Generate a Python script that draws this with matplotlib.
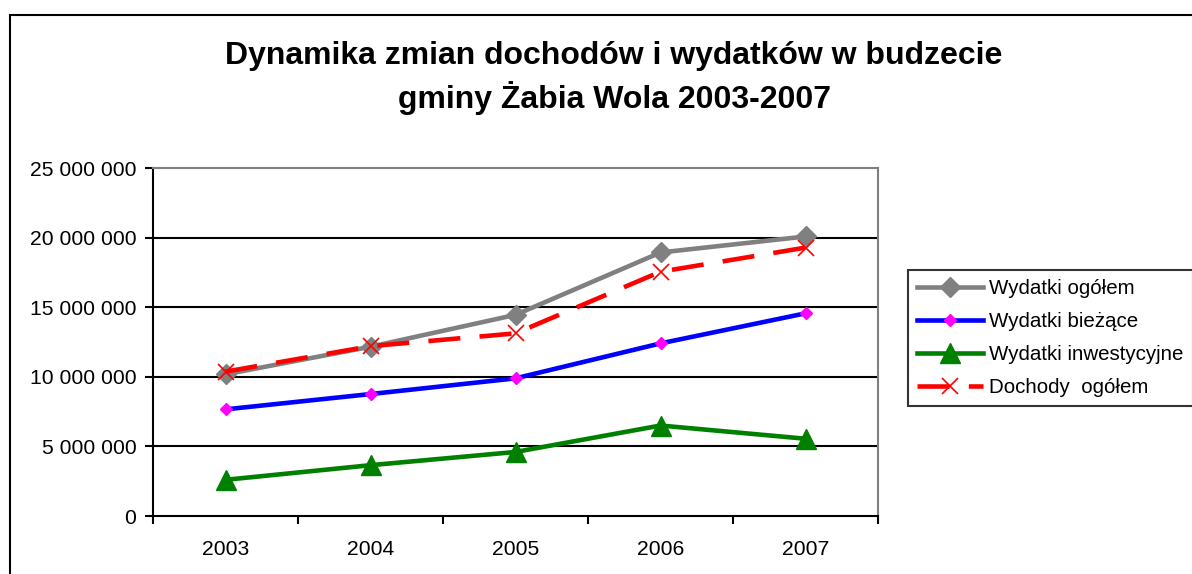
import matplotlib
matplotlib.use('Agg')
import matplotlib.pyplot as plt
from matplotlib.patches import Rectangle
from matplotlib.ticker import FuncFormatter

plt.rcParams['font.family'] = ['Liberation Sans', 'DejaVu Sans']

years = ['2003', '2004', '2005', '2006', '2007']
wydatki_ogolem = [10180000, 12160000, 14450000, 18930000, 20080000]
wydatki_biezace = [7660000, 8760000, 9890000, 12400000, 14560000]
wydatki_inwest = [2600000, 3650000, 4600000, 6500000, 5550000]
dochody_ogolem = [10370000, 12200000, 13120000, 17550000, 19280000]

fig = plt.figure(figsize=(11.92, 5.74), dpi=100)
ax = fig.add_axes([153 / 1192, 1 - 516 / 574, 725 / 1192, 348 / 574])

# outer chart frame
fig.patches.append(Rectangle((10 / 1192, -0.1), 1.2, 1 - 15 / 574 + 0.1,
                             transform=fig.transFigure, fill=False,
                             edgecolor='black', linewidth=1.5))

x = [i + 0.5 for i in range(len(years))]
ax.plot(x, wydatki_ogolem, color='#808080', lw=3.3, marker='D', ms=10.5,
        label='Wydatki ogółem', zorder=3)
ax.plot(x, wydatki_biezace, color='#0000ff', lw=3.3, marker='D', ms=6,
        mfc='#ff00ff', mec='#ff00ff', label='Wydatki bieżące', zorder=3)
ax.plot(x, wydatki_inwest, color='#008000', lw=3.3, marker='^', ms=14,
        label='Wydatki inwestycyjne', zorder=3)
ax.plot(x, dochody_ogolem, color='#ff0000', lw=3.3, marker='x', ms=12, mew=1.2,
        dashes=(7, 4.2), dash_capstyle='butt', label='Dochody  ogółem', zorder=4)

ax.set_xlim(0, 5)
ax.set_ylim(0, 25000000)
ax.set_yticks(range(0, 25000001, 5000000))
ax.yaxis.set_major_formatter(FuncFormatter(lambda v, p: f'{int(v):,}'.replace(',', ' ')))
ax.set_xticks(range(6))
ax.set_xticklabels([])
ax.set_xticks(x, minor=True)
ax.set_xticklabels(years, minor=True)
ax.tick_params(axis='x', which='minor', length=0, pad=17, labelsize=15.2)
ax.tick_params(axis='x', which='major', length=6, width=1.5, direction='out')
ax.tick_params(axis='y', length=6, width=1.5, direction='out', labelsize=15.2, pad=6)

for v in range(5000000, 25000000, 5000000):
    ax.axhline(v, color='black', lw=1.5, zorder=1)

ax.spines['left'].set_linewidth(1.5)
ax.spines['bottom'].set_linewidth(1.5)
ax.spines['top'].set_color('#808080')
ax.spines['right'].set_color('#808080')
ax.spines['top'].set_linewidth(1.5)
ax.spines['right'].set_linewidth(1.5)

fig.text(614 / 1192, 1 - 56 / 574, 'Dynamika zmian dochodów i wydatków w budzecie',
         ha='center', va='center', fontsize=23, fontweight='bold')
fig.text(615 / 1192, 1 - 98 / 574, 'gminy Żabia Wola 2003-2007',
         ha='center', va='center', fontsize=23, fontweight='bold')

leg = fig.legend(loc='upper left', bbox_to_anchor=(908 / 1192, 1 - 270 / 574),
                 fontsize=14.8, handlelength=3.2, handletextpad=0.3,
                 labelspacing=0.68, borderpad=0.45, borderaxespad=0,
                 fancybox=False, frameon=True, edgecolor='black')
leg.get_frame().set_linewidth(1.5)

fig.savefig('out.png', dpi=100)
